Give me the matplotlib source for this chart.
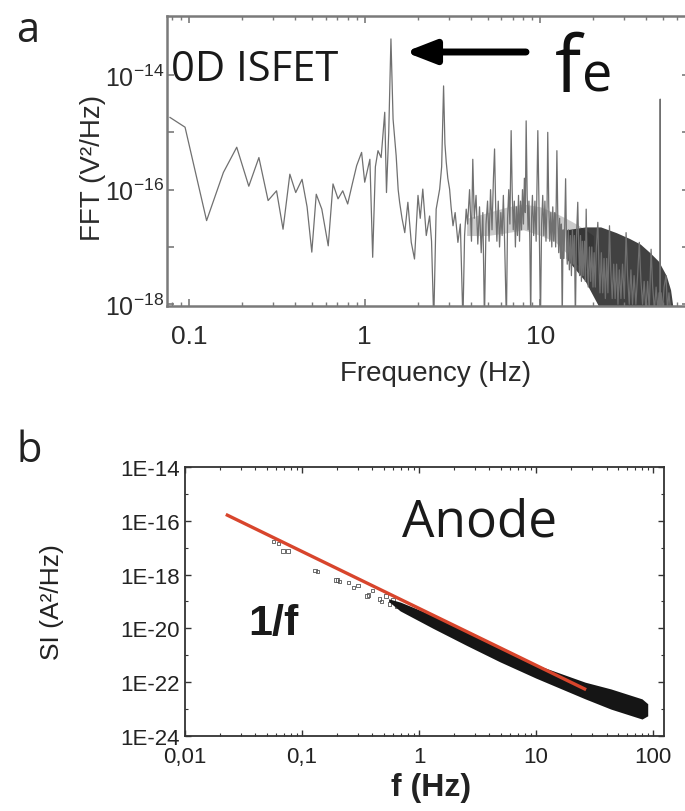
import numpy as np
import matplotlib
matplotlib.use('Agg')
import matplotlib.pyplot as plt
from matplotlib.ticker import FixedLocator, FixedFormatter, LogLocator, NullFormatter

plt.rcParams['font.family'] = ['Liberation Sans', 'DejaVu Sans']
plt.rcParams['mathtext.fontset'] = 'custom'
plt.rcParams['mathtext.rm'] = 'Liberation Sans'
plt.rcParams['mathtext.it'] = 'Liberation Sans:italic'
plt.rcParams['mathtext.bf'] = 'Liberation Sans:bold'

# ---------------- panel a : FFT spectrum of the 0D ISFET ----------------
freq_a = [0.078, 0.095, 0.126, 0.157, 0.187, 0.219, 0.250, 0.282, 0.315, 0.343,
          0.375, 0.405, 0.44, 0.47, 0.50, 0.53, 0.57, 0.62, 0.66, 0.705,
          0.75, 0.80, 0.85, 0.90, 0.96, 1.00, 1.07, 1.11, 1.15, 1.19,
          1.24, 1.30, 1.33, 1.37, 1.41, 1.45, 1.51, 1.55, 1.58, 1.63,
          1.69, 1.76, 1.84, 1.92, 2.01, 2.07, 2.14, 2.24, 2.34, 2.40,
          2.47, 2.55, 2.67, 2.74, 2.81, 2.86, 2.91, 2.97, 3.04, 3.10,
          3.18, 3.27, 3.39, 3.50, 3.62, 3.70, 3.78,
          3.85, 3.95, 4.05, 4.12, 4.2, 4.3, 4.4, 4.5, 4.6, 4.7,
          4.8, 4.9, 5.0, 5.1, 5.2, 5.3, 5.4, 5.48, 5.56, 5.65,
          5.75, 5.85, 5.95, 6.05, 6.15, 6.25, 6.4, 6.5, 6.6, 6.7,
          6.81, 6.9, 7.0, 7.1, 7.2, 7.3, 7.4, 7.5, 7.6, 7.7,
          7.8, 7.9, 8.0, 8.1, 8.2, 8.29, 8.4, 8.5, 8.6, 8.7,
          8.8, 8.9, 9.0, 9.15, 9.3, 9.45, 9.55, 9.66, 9.8, 10.0,
          10.15, 10.3, 10.45, 10.6, 10.75, 10.9, 11.0, 11.15, 11.3, 11.45,
          11.6, 11.75, 11.9, 12.05, 12.2, 12.4, 12.55, 12.7, 12.85, 13.0,
          13.15, 13.3, 13.45, 13.6, 13.75, 13.9, 14.05, 14.2, 14.4, 14.6,
          14.8, 15.0, 15.2, 15.4, 15.6, 15.8, 16.0, 16.3, 16.5, 16.7,
          16.9, 17.1, 17.3, 17.5, 17.8, 18.0, 18.2, 18.4, 18.7, 19.0,
          19.3, 19.6, 19.9, 20.2, 20.5, 20.8, 21.2, 21.5, 21.8, 22.2,
          22.6, 23.0, 23.4, 23.8, 24.2, 24.7, 25.1, 25.6, 26.1, 26.6,
          27.1, 27.6, 28.1, 28.7, 29.3, 30.0, 30.7, 31.3, 32.0, 32.7,
          33.4, 34.1, 34.9, 35.7, 36.5, 37.3, 38.1, 38.9, 39.8, 40.7,
          41.6, 42.6, 43.5, 44.5, 45.5, 46.5, 47.3, 47.9, 48.0, 48.1,
          48.6, 49.5, 50.5, 51.8, 52.8, 53.8, 55.0, 56.5]
fft_a_log10 = [-14.74, -14.91, -16.54, -15.70, -15.26, -15.94, -15.44, -16.19, -16.02, -16.69,
               -15.73, -16.05, -15.82, -16.30, -17.09, -16.08, -16.34, -16.98, -15.90, -16.16,
               -16.02, -16.25, -15.90, -15.58, -15.35, -15.87, -15.47, -17.18, -15.60, -15.32,
               -15.44, -14.65, -16.05, -15.00, -13.37, -14.77, -15.41, -16.00, -16.22, -16.50,
               -16.75, -16.22, -16.92, -17.21, -16.10, -16.50, -15.99, -16.80, -16.46, -16.90,
               -18.30, -16.34, -15.99, -15.60, -14.19, -15.20, -15.52, -15.80, -15.99, -16.30,
               -16.63, -16.40, -16.92, -16.60, -18.30, -16.80, -16.34,
               -16.6, -16.0, -16.9, -15.47, -16.5, -16.1, -16.95, -16.3, -17.1, -16.4,
               -18.3, -16.6, -16.2, -16.9, -16.0, -16.7, -15.8, -15.29, -16.3, -16.9,
               -16.2, -17.0, -16.4, -16.8, -16.1, -16.9, -18.3, -16.5, -16.0, -16.6,
               -14.97, -16.0, -16.7, -16.2, -17.0, -16.3, -16.8, -16.1, -16.9, -16.2,
               -16.7, -16.0, -16.6, -15.8, -16.4, -14.80, -16.1, -16.7, -16.2, -16.9,
               -18.3, -16.5, -16.1, -16.8, -16.2, -16.9, -16.0, -14.97, -16.2, -18.3,
               -16.6, -16.1, -16.8, -16.2, -16.9, -16.3, -15.00, -16.3, -16.9, -16.4,
               -17.0, -16.3, -16.9, -16.4, -17.0, -15.32, -16.5, -17.1, -16.5, -17.2,
               -16.6, -18.3, -16.7, -17.2, -16.6, -15.81, -16.8, -17.3, -16.7, -17.4,
               -16.8, -17.5, -16.7, -17.3, -16.8, -18.3, -16.9, -16.22, -17.0, -17.5,
               -16.8, -17.6, -16.9, -17.5, -16.9, -17.6, -16.34, -17.2, -17.7, -17.0,
               -17.6, -17.0, -17.7, -17.1, -17.7, -17.0, -16.57, -17.3, -17.8, -17.1,
               -17.8, -17.2, -17.9, -17.2, -17.8, -16.63, -17.4, -17.9, -17.3, -17.9,
               -17.3, -18.0, -17.4, -17.9, -17.3, -17.9, -16.75, -17.5, -18.0, -17.4,
               -18.0, -17.5, -18.0, -17.5, -16.92, -17.6, -18.0, -17.6, -18.1, -17.6,
               -18.1, -17.04, -17.7, -18.1, -17.7, -18.1, -17.8, -18.3, -14.42, -18.3,
               -17.8, -18.1, -17.7, -17.5, -18.1, -17.8, -18.1, -18.3]

# grey, densely oscillating body of the spectrum (envelope)
band_a_f = [3.8, 5.0, 6.5, 8.0, 10.0, 12.0, 14.0, 16.0, 18.0, 20.0]
band_a_hi_log10 = [-16.5, -16.4, -16.3, -16.25, -16.3, -16.4, -16.5, -16.6, -16.7, -16.8]
band_a_lo_log10 = [-16.8, -16.8, -16.75, -16.7, -16.8, -16.9, -17.1, -17.3, -17.4, -17.5]

# black, saturated part at high frequency (envelope)
dark_a_f = [14.0, 18.0, 22.0, 27.0, 32.0, 37.0, 42.0, 47.0, 52.0, 55.0, 57.0]
dark_a_hi_log10 = [-16.7, -16.65, -16.65, -16.75, -16.85, -16.95, -17.1, -17.25, -17.5, -17.75, -18.1]
dark_a_lo_log10 = [-17.2, -17.6, -18.1, -18.1, -18.1, -18.1, -18.1, -18.1, -18.1, -18.1, -18.1]

xticks_a = [0.1, 1, 10]
xticklabels_a = ['0.1', '1', '10']
yticks_a = [1e-18, 1e-17, 1e-16, 1e-15, 1e-14]
yticklabels_a = [r'$10^{-18}$', '', r'$10^{-16}$', '', r'$10^{-14}$']

# ---------------- panel b : anode current noise ----------------
pts_b_f = [0.057, 0.063, 0.069, 0.076, 0.129, 0.135, 0.195, 0.20, 0.21, 0.25,
           0.275, 0.30, 0.36, 0.37, 0.40, 0.46, 0.48, 0.52, 0.56, 0.60, 0.64]
pts_b_log10 = [-16.76, -16.84, -17.13, -17.13, -17.84, -17.88, -18.2, -18.2, -18.25, -18.3,
               -18.48, -18.4, -18.8, -18.76, -18.6, -18.9, -19.0, -18.8, -19.1, -18.95, -19.19]

band_b_f = [0.55, 0.69, 1.32, 2.57, 4.9, 10.0, 26.3, 43.6, 80.5, 90.0]
band_b_hi_log10 = [-18.9, -19.02, -19.52, -20.12, -20.7, -21.35, -22.0, -22.25, -22.62, -22.8]
band_b_lo_log10 = [-19.0, -19.35, -20.0, -20.64, -21.24, -21.85, -22.62, -23.0, -23.37, -23.25]

fit_b_f = [0.023, 26.0]
fit_b_log10 = [-15.79, -22.25]

xticks_b = [0.01, 0.1, 1, 10, 100]
xticklabels_b = ['0,01', '0,1', '1', '10', '100']
yticks_b = [1e-24, 1e-22, 1e-20, 1e-18, 1e-16, 1e-14]
yticklabels_b = ['1E-24', '1E-22', '1E-20', '1E-18', '1E-16', '1E-14']


def p10(v):
    return np.power(10.0, np.asarray(v, dtype=float))


W, H = 685, 812
fig = plt.figure(figsize=(W / 100, H / 100), dpi=100)


def ax_rect(l, r, t, b):
    return [l / W, 1 - b / H, (r - l) / W, (b - t) / H]


# ---------- panel a ----------
axa = fig.add_axes(ax_rect(167, 689, 17, 307))
axa.set_xscale('log')
axa.set_yscale('log')
axa.fill_between(band_a_f, p10(band_a_lo_log10), p10(band_a_hi_log10),
                 color='#555555', alpha=0.3, lw=0)
axa.plot(freq_a, p10(fft_a_log10), color='#707070', lw=0.9)
axa.fill_between(dark_a_f, p10(dark_a_lo_log10), p10(dark_a_hi_log10),
                 color='#111111', alpha=0.8, lw=0)
axa.set_xlim(0.075, 70)
axa.set_ylim(10 ** -18.03, 10 ** -12.97)

axa.xaxis.set_major_locator(FixedLocator(xticks_a))
axa.xaxis.set_major_formatter(FixedFormatter(xticklabels_a))
axa.xaxis.set_minor_locator(LogLocator(base=10, subs=np.arange(2, 10), numticks=20))
axa.xaxis.set_minor_formatter(NullFormatter())
axa.yaxis.set_major_locator(FixedLocator(yticks_a))
axa.yaxis.set_major_formatter(FixedFormatter(yticklabels_a))
axa.yaxis.set_minor_locator(FixedLocator([]))
axa.tick_params(axis='both', which='both', direction='in', top=True, right=True,
                colors='#7a7a7a', labelcolor='#2a2a2a')
axa.tick_params(axis='x', which='major', length=5, width=1.2, labelsize=19, pad=13)
axa.tick_params(axis='x', which='minor', length=3, width=1.0)
axa.tick_params(axis='y', which='major', length=5, width=1.2, labelsize=18, pad=2)
for s in axa.spines.values():
    s.set_color('#7a7a7a')
    s.set_linewidth(1.8)

axa.set_xlabel('Frequency (Hz)', fontsize=20, color='#2a2a2a', va='center')
axa.xaxis.set_label_coords((436 - 167) / 522, (307 - 374) / 290)
axa.set_ylabel('FFT (V\u00b2/Hz)', fontsize=20, color='#2a2a2a', va='center')
axa.yaxis.set_label_coords((93 - 167) / 522, (307 - 168) / 290)

axa.text((171 - 167) / 522, (307 - 81) / 290, '0D ISFET', transform=axa.transAxes,
         fontsize=30, family='Open Sans', color='#1a1a1a', ha='left', va='baseline')
axa.annotate('', xy=((405 - 167) / 522, (307 - 53) / 290),
             xytext=((526 - 167) / 522, (307 - 53) / 290),
             xycoords='axes fraction', textcoords='axes fraction',
             arrowprops=dict(arrowstyle='-|>,head_length=0.9,head_width=0.35',
                             mutation_scale=20, lw=5, color='black',
                             shrinkA=0, shrinkB=0))
axa.text((555 - 167) / 522, (307 - 92) / 290, 'f', transform=axa.transAxes,
         fontsize=56, family='Open Sans', color='#111111', ha='left', va='baseline')
axa.text((582 - 167) / 522, (307 - 92) / 290, 'e', transform=axa.transAxes,
         fontsize=39, family='Open Sans', color='#111111', ha='left', va='baseline')

fig.text(16 / W, 1 - 42 / H, 'a', fontsize=30, family='Open Sans', color='#222222',
         ha='left', va='baseline')

# ---------- panel b ----------
axb = fig.add_axes(ax_rect(185, 664, 468, 737))
axb.set_xscale('log')
axb.set_yscale('log')
axb.scatter(pts_b_f, p10(pts_b_log10), s=6, marker='s', facecolors='none',
            edgecolors='#555555', linewidths=0.6, zorder=2)
axb.fill_between(band_b_f, p10(band_b_lo_log10), p10(band_b_hi_log10),
                 color='#151515', lw=0, zorder=2)
axb.plot(fit_b_f, p10(fit_b_log10), color='#d8452c', lw=2.4, zorder=3)
axb.set_xlim(0.01, 124)
axb.set_ylim(1e-24, 1e-14)

axb.xaxis.set_major_locator(FixedLocator(xticks_b))
axb.xaxis.set_major_formatter(FixedFormatter(xticklabels_b))
axb.xaxis.set_minor_locator(LogLocator(base=10, subs=np.arange(2, 10), numticks=20))
axb.xaxis.set_minor_formatter(NullFormatter())
axb.yaxis.set_major_locator(FixedLocator(yticks_b))
axb.yaxis.set_major_formatter(FixedFormatter(yticklabels_b))
axb.yaxis.set_minor_locator(FixedLocator([1e-23, 1e-21, 1e-19, 1e-17, 1e-15]))
axb.yaxis.set_minor_formatter(NullFormatter())
axb.tick_params(axis='both', which='both', direction='in', top=True, right=True,
                colors='#333333', labelcolor='#222222')
axb.tick_params(axis='both', which='major', length=4, width=1.0, labelsize=16)
axb.tick_params(axis='both', which='minor', length=2.5, width=0.8)
axb.tick_params(axis='x', which='major', pad=7)
axb.tick_params(axis='y', which='major', pad=4)
for s in axb.spines.values():
    s.set_color('#333333')
    s.set_linewidth(1.3)

axb.set_xlabel('f (Hz)', fontsize=23, fontweight='bold', color='#222222', va='center')
axb.xaxis.set_label_coords((431 - 185) / 479, (737 - 788) / 269)
axb.set_ylabel('SI (A\u00b2/Hz)', fontsize=19, color='#222222', va='center')
axb.yaxis.set_label_coords((52 - 185) / 479, 0.5)

axb.text((480 - 185) / 479, (737 - 537) / 269, 'Anode', transform=axb.transAxes,
         fontsize=37, family='Open Sans', color='#1a1a1a', ha='center', va='baseline')
axb.text((273 - 185) / 479, (737 - 635) / 269, '1/f', transform=axb.transAxes,
         fontsize=31, fontweight='bold', color='#1a1a1a', ha='center', va='baseline')

fig.text(16 / W, 1 - 462 / H, 'b', fontsize=30, family='Open Sans', color='#222222',
         ha='left', va='baseline')

fig.savefig('out.png', dpi=100)
